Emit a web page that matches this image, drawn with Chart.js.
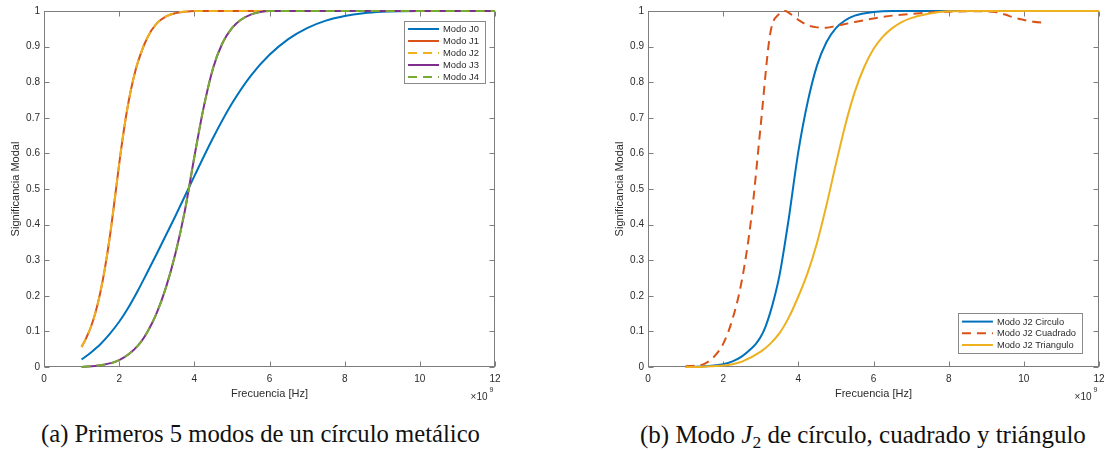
<!DOCTYPE html>
<html>
<head>
<meta charset="utf-8">
<script src="https://cdn.jsdelivr.net/npm/chart.js@4.4.1/dist/chart.umd.min.js"></script>
<style>
  html, body { margin: 0; padding: 0; background: #fff; }
  body { width: 1107px; height: 450px; position: relative; overflow: hidden; }
  canvas { position: absolute; top: 0; }
  #chartA { left: 0; }
  #chartB { left: 604px; }
  .cap { position: absolute; white-space: nowrap; line-height: 1; color: #111;
         font-family: "Liberation Serif", "DejaVu Serif", serif; font-size: 20px; }
  .cap sub { font-size: 0.7em; vertical-align: -0.3em; line-height: 0; }
</style>
</head>
<body>
<canvas id="chartA" width="503" height="410"></canvas>
<canvas id="chartB" width="503" height="410"></canvas>
<div class="cap" id="capA">(a) Primeros 5 modos de un círculo metálico</div>
<div class="cap" id="capB">(b) Modo <i>J</i><sub>2</sub> de círculo, cuadrado y triángulo</div>
<script>
// frequencies in units of 1e9 Hz (axis shows x10^9)
const freqJ0 = [1, 1.25, 1.5, 1.75, 2, 2.25, 2.5, 2.75, 3, 3.5, 4, 4.5, 5, 5.5, 6, 6.5, 7, 7.5, 8, 8.5, 9, 9.5, 10, 11, 12];
const modoJ0 = [0.021, 0.041, 0.064, 0.093, 0.127, 0.168, 0.215, 0.266, 0.318, 0.425, 0.536, 0.644, 0.74, 0.818, 0.877, 0.921, 0.952, 0.973, 0.986, 0.994, 0.998, 0.9995, 1, 1, 1];

const freqJ1 = [1, 1.125, 1.25, 1.375, 1.5, 1.625, 1.75, 1.875, 2, 2.125, 2.25, 2.375, 2.5, 2.75, 3, 3.25, 3.5, 3.75, 4, 5, 6, 8, 10, 12];
const modoJ1 = [0.056, 0.082, 0.113, 0.155, 0.21, 0.28, 0.365, 0.465, 0.57, 0.665, 0.745, 0.808, 0.857, 0.925, 0.965, 0.985, 0.994, 0.998, 1, 1, 1, 1, 1, 1];
const modoJ2 = [0.056, 0.082, 0.113, 0.155, 0.21, 0.28, 0.365, 0.465, 0.57, 0.665, 0.745, 0.808, 0.857, 0.925, 0.965, 0.985, 0.994, 0.998, 1, 1, 1, 1, 1, 1];

const freqJ3 = [1, 1.5, 2, 2.5, 2.75, 3, 3.25, 3.5, 3.75, 4, 4.25, 4.5, 4.75, 5, 5.25, 5.5, 5.75, 6, 7, 8, 10, 12];
const modoJ3 = [0, 0.005, 0.019, 0.06, 0.098, 0.152, 0.225, 0.32, 0.44, 0.59, 0.73, 0.84, 0.91, 0.952, 0.976, 0.99, 0.997, 1, 1, 1, 1, 1];
const modoJ4 = [0, 0.005, 0.019, 0.06, 0.098, 0.152, 0.225, 0.32, 0.44, 0.59, 0.73, 0.84, 0.91, 0.952, 0.976, 0.99, 0.997, 1, 1, 1, 1, 1];

const freqCirculo = [1, 1.5, 2, 2.25, 2.5, 2.75, 2.875, 3, 3.125, 3.25, 3.375, 3.5, 3.625, 3.75, 3.875, 4, 4.25, 4.5, 4.75, 5, 5.25, 5.5, 6, 6.5, 7, 8, 10, 12];
const modoCirculo = [0, 0.002, 0.008, 0.016, 0.03, 0.052, 0.066, 0.085, 0.113, 0.152, 0.2, 0.258, 0.335, 0.42, 0.515, 0.605, 0.745, 0.848, 0.913, 0.952, 0.974, 0.987, 0.997, 1, 1, 1, 1, 1];

const freqCuadrado = [1, 1.25, 1.5, 1.75, 2, 2.25, 2.5, 2.75, 3, 3.25, 3.5, 3.65, 3.75, 4, 4.25, 4.5, 4.75, 5, 5.5, 6, 6.5, 7, 7.5, 8, 8.5, 9, 9.25, 9.5, 9.75, 10, 10.25, 10.6];
const modoCuadrado = [0.002, 0.004, 0.009, 0.028, 0.065, 0.135, 0.245, 0.42, 0.68, 0.935, 0.993, 1, 0.995, 0.975, 0.96, 0.954, 0.953, 0.958, 0.969, 0.979, 0.987, 0.992, 0.996, 0.998, 0.999, 0.999, 0.997, 0.99, 0.981, 0.975, 0.97, 0.967];

const freqTriangulo = [1, 1.5, 2, 2.25, 2.5, 3, 3.25, 3.5, 3.75, 4, 4.25, 4.5, 4.75, 5, 5.25, 5.5, 5.75, 6, 6.25, 6.5, 6.75, 7, 7.5, 8, 8.5, 10, 12];
const modoTriangulo = [0, 0.001, 0.004, 0.008, 0.015, 0.043, 0.065, 0.095, 0.14, 0.198, 0.265, 0.35, 0.455, 0.57, 0.68, 0.772, 0.842, 0.893, 0.928, 0.952, 0.969, 0.98, 0.993, 0.999, 1, 1, 1];

const xTicksMax = 12;
const yTicksMax = 1;

const SANS = '"Liberation Sans", Arial, Helvetica, sans-serif';
const TXT = '#2b2b2b';
const AXIS = '#7d7d7d';
const C = { blue: '#0072BD', red: '#D95319', yellow: '#EDB120', purple: '#7E2F8E', green: '#77AC30' };
const DASH = [9, 6];

// box round the axes with inward ticks, MATLAB style
const frame = {
  id: 'frame',
  beforeDatasetsDraw(chart) {
    const { ctx, chartArea: a, scales: { x, y } } = chart;
    const L = Math.round(a.left) + 0.5, R = Math.round(a.right) - 0.5;
    const T = Math.round(a.top) + 0.5, B = Math.round(a.bottom) - 0.5;
    ctx.save();
    ctx.strokeStyle = AXIS;
    ctx.lineWidth = 1;
    ctx.strokeRect(L, T, R - L, B - T);
    ctx.beginPath();
    x.ticks.forEach(t => {
      const p = Math.round(x.getPixelForValue(t.value)) + 0.5;
      ctx.moveTo(p, B); ctx.lineTo(p, B - 5);
      ctx.moveTo(p, T); ctx.lineTo(p, T + 5);
    });
    y.ticks.forEach(t => {
      const p = Math.round(y.getPixelForValue(t.value)) + 0.5;
      ctx.moveTo(L, p); ctx.lineTo(L + 5, p);
      ctx.moveTo(R, p); ctx.lineTo(R - 5, p);
    });
    ctx.stroke();
    ctx.restore();
  },
  afterDraw(chart) {
    const { ctx, chartArea: a } = chart;
    ctx.save();
    ctx.fillStyle = TXT;
    ctx.textBaseline = 'middle';
    ctx.font = `10px ${SANS}`;
    ctx.textAlign = 'right';
    ctx.fillText('\u00d710', a.right - 7.5, 397);
    ctx.font = `7px ${SANS}`;
    ctx.textAlign = 'left';
    ctx.fillText('9', a.right - 5.5, 390);
    ctx.restore();
  }
};

// boxed legend inside the axes
const boxLegend = {
  id: 'boxLegend',
  afterDraw(chart, args, o) {
    const { ctx, chartArea: a } = chart;
    const ds = chart.data.datasets;
    ctx.save();
    ctx.font = `${o.size}px ${SANS}`;
    const textW = Math.max(...ds.map(d => ctx.measureText(d.label).width));
    const w = 39 + textW + 6;
    const h = o.padT + (ds.length - 1) * o.step + o.padB;
    const left = a.right - o.dx - w;
    const top = o.corner === 'ne' ? a.top + o.dy : a.bottom - o.dy - h;
    ctx.fillStyle = '#fff';
    ctx.fillRect(left, top, w, h);
    ctx.strokeStyle = '#8a8a8a';
    ctx.lineWidth = 1;
    ctx.strokeRect(Math.round(left) + 0.5, Math.round(top) + 0.5, Math.round(w), Math.round(h));
    ds.forEach((d, i) => {
      const yy = top + o.padT + i * o.step;
      ctx.setLineDash(d.borderDash || []);
      ctx.strokeStyle = d.borderColor;
      ctx.lineWidth = 2;
      ctx.beginPath();
      ctx.moveTo(left + 4, yy);
      ctx.lineTo(left + 35, yy);
      ctx.stroke();
      ctx.setLineDash([]);
      ctx.fillStyle = TXT;
      ctx.textBaseline = 'middle';
      ctx.textAlign = 'left';
      ctx.fillText(d.label, left + 39, yy + 0.5);
    });
    ctx.restore();
  }
};

function series(label, xs, ys, color, dash) {
  return { label, xs, ys, color, dash };
}

function makeChart(id, list, legendOpts) {
  return new Chart(document.getElementById(id), {
    type: 'line',
    data: {
      datasets: list.map((s, i) => ({
        label: s.label,
        data: s.xs.map((x, k) => ({ x, y: s.ys[k] })),
        borderColor: s.color,
        backgroundColor: s.color,
        borderWidth: 2,
        borderDash: s.dash || [],
        pointRadius: 0,
        cubicInterpolationMode: 'monotone',
        fill: false,
        clip: false,
        order: list.length - i,
      }))
    },
    options: {
      responsive: false,
      animation: false,
      events: [],
      layout: { padding: { top: 11, right: 8, left: 0, bottom: 0 } },
      plugins: {
        legend: { display: false },
        tooltip: { enabled: false },
        boxLegend: legendOpts,
      },
      scales: {
        x: {
          type: 'linear', min: 0, max: xTicksMax,
          afterFit: s => { s.height = 43; s.paddingLeft = 0; s.paddingRight = 0; },
          grid: { display: false, drawTicks: false },
          border: { display: false },
          ticks: { stepSize: 2, padding: 6, maxRotation: 0, color: TXT, font: { family: SANS, size: 10 } },
          title: { display: true, text: 'Frecuencia [Hz]', color: TXT,
                   font: { family: SANS, size: 11 }, padding: { top: 0, bottom: 9 } },
        },
        y: {
          min: 0, max: yTicksMax,
          afterFit: s => { s.width = 44; s.paddingTop = 0; s.paddingBottom = 0; },
          grid: { display: false, drawTicks: false },
          border: { display: false },
          ticks: { stepSize: 0.1, padding: 4, color: TXT, font: { family: SANS, size: 10 },
                   callback: v => String(+v.toFixed(1)) },
          title: { display: true, text: 'Significancia Modal', color: TXT,
                   font: { family: SANS, size: 11 }, padding: { top: 9, bottom: 0 } },
        }
      }
    },
    plugins: [frame, boxLegend]
  });
}

makeChart('chartA', [
  series('Modo J0', freqJ0, modoJ0, C.blue),
  series('Modo J1', freqJ1, modoJ1, C.red),
  series('Modo J2', freqJ1, modoJ2, C.yellow, DASH),
  series('Modo J3', freqJ3, modoJ3, C.purple),
  series('Modo J4', freqJ3, modoJ4, C.green, DASH),
], { corner: 'ne', dx: 10, dy: 10, step: 12, padT: 8, padB: 6, size: 9.4 });

makeChart('chartB', [
  series('Modo J2 Circulo', freqCirculo, modoCirculo, C.blue),
  series('Modo J2 Cuadrado', freqCuadrado, modoCuadrado, C.red, DASH),
  series('Modo J2 Triangulo', freqTriangulo, modoTriangulo, C.yellow),
], { corner: 'se', dx: 17, dy: 14.5, step: 11.7, padT: 9, padB: 7.5, size: 9.3 });

// fit captions to the width they take in the figure
function fitCaption(el, left, width, cy) {
  el.style.left = left + 'px';
  const w = el.getBoundingClientRect().width;
  el.style.fontSize = (20 * width / w) + 'px';
  const h = el.getBoundingClientRect().height;
  el.style.top = (cy - h / 2) + 'px';
}
fitCaption(document.getElementById('capA'), 41, 439, 434);
fitCaption(document.getElementById('capB'), 640, 446, 434);
</script>
</body>
</html>
